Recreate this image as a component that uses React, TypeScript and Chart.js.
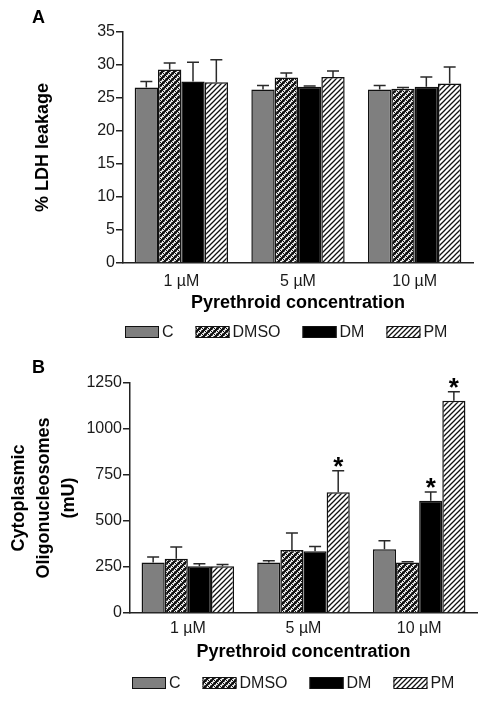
import React, { useEffect, useRef } from "react";
import { Chart, registerables } from "chart.js";
Chart.register(...registerables);

const categories = ["1 µM", "5 µM", "10 µM"];
const seriesNames = ["C", "DMSO", "DM", "PM"];

// Panel A: % LDH leakage
const ldhC = [26.6, 26.3, 26.3];
const ldhDMSO = [29.3, 28.1, 26.4];
const ldhDM = [27.5, 26.7, 26.7];
const ldhPM = [27.4, 28.2, 27.2];
const ldhErrC = [0.9, 0.6, 0.6];
const ldhErrDMSO = [1.0, 0.7, 0.2];
const ldhErrDM = [2.9, 0.1, 1.5];
const ldhErrPM = [3.4, 0.9, 2.5];
const ldhStarsC = [false, false, false];
const ldhStarsDMSO = [false, false, false];
const ldhStarsDM = [false, false, false];
const ldhStarsPM = [false, false, false];
const ldhMax = 35;
const ldhStep = 5;

// Panel B: Cytoplasmic oligonucleosomes (mU)
const oligoC = [275, 275, 346];
const oligoDMSO = [295, 342, 275];
const oligoDM = [254, 335, 610];
const oligoPM = [254, 656, 1154];
const oligoErrC = [29, 9, 47];
const oligoErrDMSO = [64, 93, 4];
const oligoErrDM = [14, 27, 48];
const oligoErrPM = [10, 117, 49];
const oligoStarsC = [false, false, false];
const oligoStarsDMSO = [false, false, false];
const oligoStarsDM = [false, false, true];
const oligoStarsPM = [false, true, true];
const oligoMax = 1250;
const oligoStep = 250;

const FONT = '"Liberation Sans", Arial, Helvetica, sans-serif';
const INK = "#1a1a1a";

function makeDmsoPattern(): CanvasPattern | string {
  const t = document.createElement("canvas");
  t.width = 6;
  t.height = 6;
  const c = t.getContext("2d");
  if (!c) return "#555";
  c.fillStyle = "#111";
  c.fillRect(0, 0, 6, 6);
  c.strokeStyle = "#fff";
  c.lineWidth = 2;
  c.lineCap = "butt";
  c.beginPath();
  c.moveTo(0, 3);
  c.lineTo(3, 0);
  c.moveTo(3, 6);
  c.lineTo(6, 3);
  c.stroke();
  c.strokeStyle = "#111";
  c.lineWidth = 1;
  c.beginPath();
  c.moveTo(0, 0);
  c.lineTo(6, 6);
  c.stroke();
  const p = c.createPattern(t, "repeat");
  return p || "#555";
}

function makePmPattern(): CanvasPattern | string {
  const t = document.createElement("canvas");
  t.width = 5;
  t.height = 5;
  const c = t.getContext("2d");
  if (!c) return "#aaa";
  c.fillStyle = "#fff";
  c.fillRect(0, 0, 5, 5);
  c.strokeStyle = "#111";
  c.lineWidth = 1.3;
  c.beginPath();
  c.moveTo(-1, 6);
  c.lineTo(6, -1);
  c.moveTo(-1, 1);
  c.lineTo(1, -1);
  c.moveTo(4, 6);
  c.lineTo(6, 4);
  c.stroke();
  const p = c.createPattern(t, "repeat");
  return p || "#aaa";
}

const decorPlugin = {
  id: "decor",
  afterDatasetsDraw(chart: any, _args: any, opts: any) {
    const ctx = chart.ctx;
    const yScale = chart.scales.y;
    ctx.save();
    chart.data.datasets.forEach((ds: any, i: number) => {
      const meta = chart.getDatasetMeta(i);
      const errs: number[] = opts.errors[i];
      const stars: boolean[] = opts.stars[i];
      meta.data.forEach((bar: any, j: number) => {
        const v = ds.data[j];
        const top = yScale.getPixelForValue(v);
        const ey = yScale.getPixelForValue(v + errs[j]);
        ctx.strokeStyle = "#2a2a2a";
        ctx.lineWidth = 1.5;
        ctx.beginPath();
        ctx.moveTo(bar.x, top);
        ctx.lineTo(bar.x, ey);
        ctx.moveTo(bar.x - 6, ey);
        ctx.lineTo(bar.x + 6, ey);
        ctx.stroke();
        if (stars[j]) {
          ctx.font = "bold 26px " + FONT;
          ctx.fillStyle = "#000";
          ctx.textAlign = "center";
          ctx.textBaseline = "alphabetic";
          const m = ctx.measureText("*");
          const mid = (-m.actualBoundingBoxAscent + m.actualBoundingBoxDescent) / 2;
          ctx.fillText("*", bar.x, ey - 9 - mid);
        }
      });
    });
    ctx.restore();
  },
  afterDraw(chart: any, _args: any, opts: any) {
    const ctx = chart.ctx;
    ctx.save();
    ctx.font = "bold 18px " + FONT;
    ctx.fillStyle = "#000";
    ctx.textAlign = "left";
    ctx.textBaseline = "alphabetic";
    ctx.fillText(opts.panel, opts.panelX, opts.panelY);
    let x = chart.chartArea.left + 2;
    const cy = opts.legendY;
    ctx.font = "16px " + FONT;
    ctx.textBaseline = "middle";
    chart.data.datasets.forEach((ds: any) => {
      ctx.fillStyle = ds.backgroundColor;
      ctx.fillRect(x, cy - 6, 34, 12);
      ctx.strokeStyle = "#111";
      ctx.lineWidth = 1;
      ctx.strokeRect(x + 0.5, cy - 5.5, 33, 11);
      ctx.fillStyle = INK;
      ctx.fillText(ds.label, x + 37, cy + 1);
      x += 37 + ctx.measureText(ds.label).width + 22;
    });
    ctx.restore();
  },
};

function buildChart(
  canvas: HTMLCanvasElement,
  values: number[][],
  errors: number[][],
  stars: boolean[][],
  max: number,
  step: number,
  yTitle: string | string[],
  setup: any
) {
  const fills = ["#7f7f7f", makeDmsoPattern(), "#000000", makePmPattern()];
  return new Chart(canvas, {
    type: "bar",
    data: {
      labels: categories,
      datasets: seriesNames.map((name, i) => ({
        label: name,
        data: values[i],
        backgroundColor: fills[i] as any,
        borderColor: "#111",
        borderWidth: 1.5,
        barPercentage: 1.0,
        categoryPercentage: 0.8,
      })),
    },
    options: {
      animation: false,
      responsive: false,
      devicePixelRatio: 1,
      layout: {
        padding: { top: setup.padTop, right: setup.padRight, bottom: setup.padBottom, left: 0 },
      },
      plugins: {
        legend: { display: false },
        tooltip: { enabled: false },
        decor: {
          errors,
          stars,
          legendY: setup.legendY,
          panel: setup.panel,
          panelX: 32,
          panelY: setup.panelY,
        },
      } as any,
      scales: {
        x: {
          grid: { display: false, drawTicks: false },
          border: { display: true, color: "#222", width: 1.5 },
          ticks: { color: INK, font: { family: FONT, size: 16 }, padding: setup.xTickPad },
          title: {
            display: true,
            text: "Pyrethroid concentration",
            color: "#000",
            font: { family: FONT, size: 18, weight: "bold" },
            padding: { top: 0, bottom: 1.2 },
          },
          afterFit: (s: any) => {
            s.height = setup.xHeight;
          },
        },
        y: {
          min: 0,
          max,
          grid: {
            drawOnChartArea: false,
            drawTicks: true,
            tickLength: 7,
            color: "#222",
            lineWidth: 1.5,
          },
          border: { display: true, color: "#222", width: 1.5 },
          ticks: {
            stepSize: step,
            color: INK,
            font: { family: FONT, size: 16 },
            padding: 1,
            callback: (v: any) => String(v),
          },
          title: {
            display: true,
            text: yTitle,
            color: "#000",
            font: { family: FONT, size: 18, weight: "bold", lineHeight: setup.yTitleLH },
            padding: { top: setup.yTitlePad, bottom: 0 },
          },
          afterFit: (s: any) => {
            s.width = setup.yWidth;
          },
        },
      },
    } as any,
    plugins: [decorPlugin as any],
  });
}

export default function App() {
  const refA = useRef<HTMLCanvasElement | null>(null);
  const refB = useRef<HTMLCanvasElement | null>(null);

  useEffect(() => {
    if (!refA.current || !refB.current) return;
    const a = buildChart(
      refA.current,
      [ldhC, ldhDMSO, ldhDM, ldhPM],
      [ldhErrC, ldhErrDMSO, ldhErrDM, ldhErrPM],
      [ldhStarsC, ldhStarsDMSO, ldhStarsDM, ldhStarsPM],
      ldhMax,
      ldhStep,
      "% LDH leakage",
      {
        padTop: 32,
        padRight: 14,
        padBottom: 25,
        xHeight: 52,
        xTickPad: 9,
        yWidth: 123,
        yTitlePad: 32.2,
        yTitleLH: 1.2,
        legendY: 332,
        panel: "A",
        panelY: 23,
      }
    );
    const b = buildChart(
      refB.current,
      [oligoC, oligoDMSO, oligoDM, oligoPM],
      [oligoErrC, oligoErrDMSO, oligoErrDM, oligoErrPM],
      [oligoStarsC, oligoStarsDMSO, oligoStarsDM, oligoStarsPM],
      oligoMax,
      oligoStep,
      ["Cytoplasmic", "Oligonucleosomes", "(mU)"],
      {
        padTop: 43,
        padRight: 10,
        padBottom: 37,
        xHeight: 51,
        xTickPad: 5.5,
        yWidth: 130,
        yTitlePad: 6.5,
        yTitleLH: 25 / 18,
        legendY: 343,
        panel: "B",
        panelY: 33,
      }
    );
    return () => {
      a.destroy();
      b.destroy();
    };
  }, []);

  return (
    <div style={{ position: "absolute", left: 0, top: 0, width: 487, height: 701, background: "#fff" }}>
      <canvas ref={refA} width={487} height={340} style={{ display: "block", width: 487, height: 340 }} />
      <canvas ref={refB} width={487} height={361} style={{ display: "block", width: 487, height: 361 }} />
    </div>
  );
}
